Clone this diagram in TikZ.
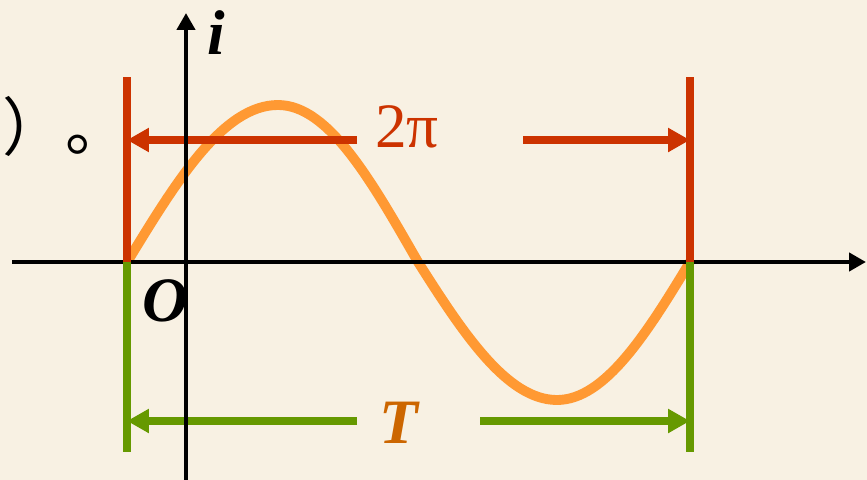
\documentclass[tikz,border=0pt]{standalone}
\usepackage{fontspec}
\setmainfont{Liberation Serif}
\newfontfamily\cjkfont{Noto Sans CJK SC}
\usetikzlibrary{arrows.meta}
\definecolor{bgcol}{HTML}{F8F1E3}
\definecolor{redc}{HTML}{CC3300}
\definecolor{greenc}{HTML}{669900}
\definecolor{curvec}{HTML}{FF9933}
\definecolor{tcol}{HTML}{CC6600}
\tikzset{
  axisline/.style={draw=black, line width=2.8pt, -{Triangle[length=0.34cm,width=0.36cm]}},
  markline/.style={line width=4.5pt},
  spanarrow/.style={line width=4.5pt, -{Triangle[length=0.44cm,width=0.46cm]}},
  wave/.style={draw=curvec, line width=5.6pt},
  bigtext/.style={inner sep=0pt, font=\fontsize{36}{40}\selectfont}
}
\begin{document}
\begin{tikzpicture}[x=0.02cm,y=-0.02cm]
\fill[bgcol] (0,0) rectangle (867,480);
\useasboundingbox (0,0) rectangle (867,480);

% key points
\coordinate (xs) at (12,262);
\coordinate (xe) at (866,262);
\coordinate (ys) at (186,482);
\coordinate (ye) at (186,13);
\coordinate (lt) at (127,77);
\coordinate (lm) at (127,262);
\coordinate (lb) at (127,452);
\coordinate (rt) at (690,77);
\coordinate (rm) at (690,262);
\coordinate (rb) at (690,452);
\coordinate (ral) at (357,140);
\coordinate (rar) at (523,140);
\coordinate (gal) at (357,421);
\coordinate (gar) at (480,421);
\coordinate (pk) at (278,105);
\coordinate (z1) at (418,262);
\coordinate (tr) at (557,400);

% sine curve
\draw[wave] (129,259)
  .. controls (176,182) and (223,105) .. (pk)
  .. controls (329,105) and (372,182) .. (z1)
  .. controls (463,333) and (507,400) .. (tr)
  .. controls (605,400) and (647,333) .. (rm);

% span arrows
\draw[spanarrow, redc] (ral) -- (127,140);
\draw[spanarrow, redc] (rar) -- (690,140);
\draw[spanarrow, greenc] (gal) -- (127,421);
\draw[spanarrow, greenc] (gar) -- (690,421);

% axes
\draw[axisline] (xs) -- (xe);
\draw[axisline] (ys) -- (ye);

% vertical markers
\draw[markline, redc] (lt) -- (lm);
\draw[markline, greenc] (lm) -- (lb);
\draw[markline, redc] (rt) -- (rm);
\draw[markline, greenc] (rm) -- (rb);

% labels
\node[bigtext, text=redc, anchor=base] (twopi) at (407,147) {2π};
\node[bigtext, text=tcol, anchor=base] (tlab) at (400,443) {\textbf{\textit{T}}};
\node[bigtext, anchor=base] (ilab) at (216,54) {\textbf{\textit{i}}};
\node[bigtext, anchor=base] (olab) at (165,321) {\textbf{\textit{O}}};
\node[inner sep=0pt, anchor=base west, font=\cjkfont\fontsize{36}{40}\selectfont] (punct) at (2,151) {）。};
\end{tikzpicture}
\end{document}
